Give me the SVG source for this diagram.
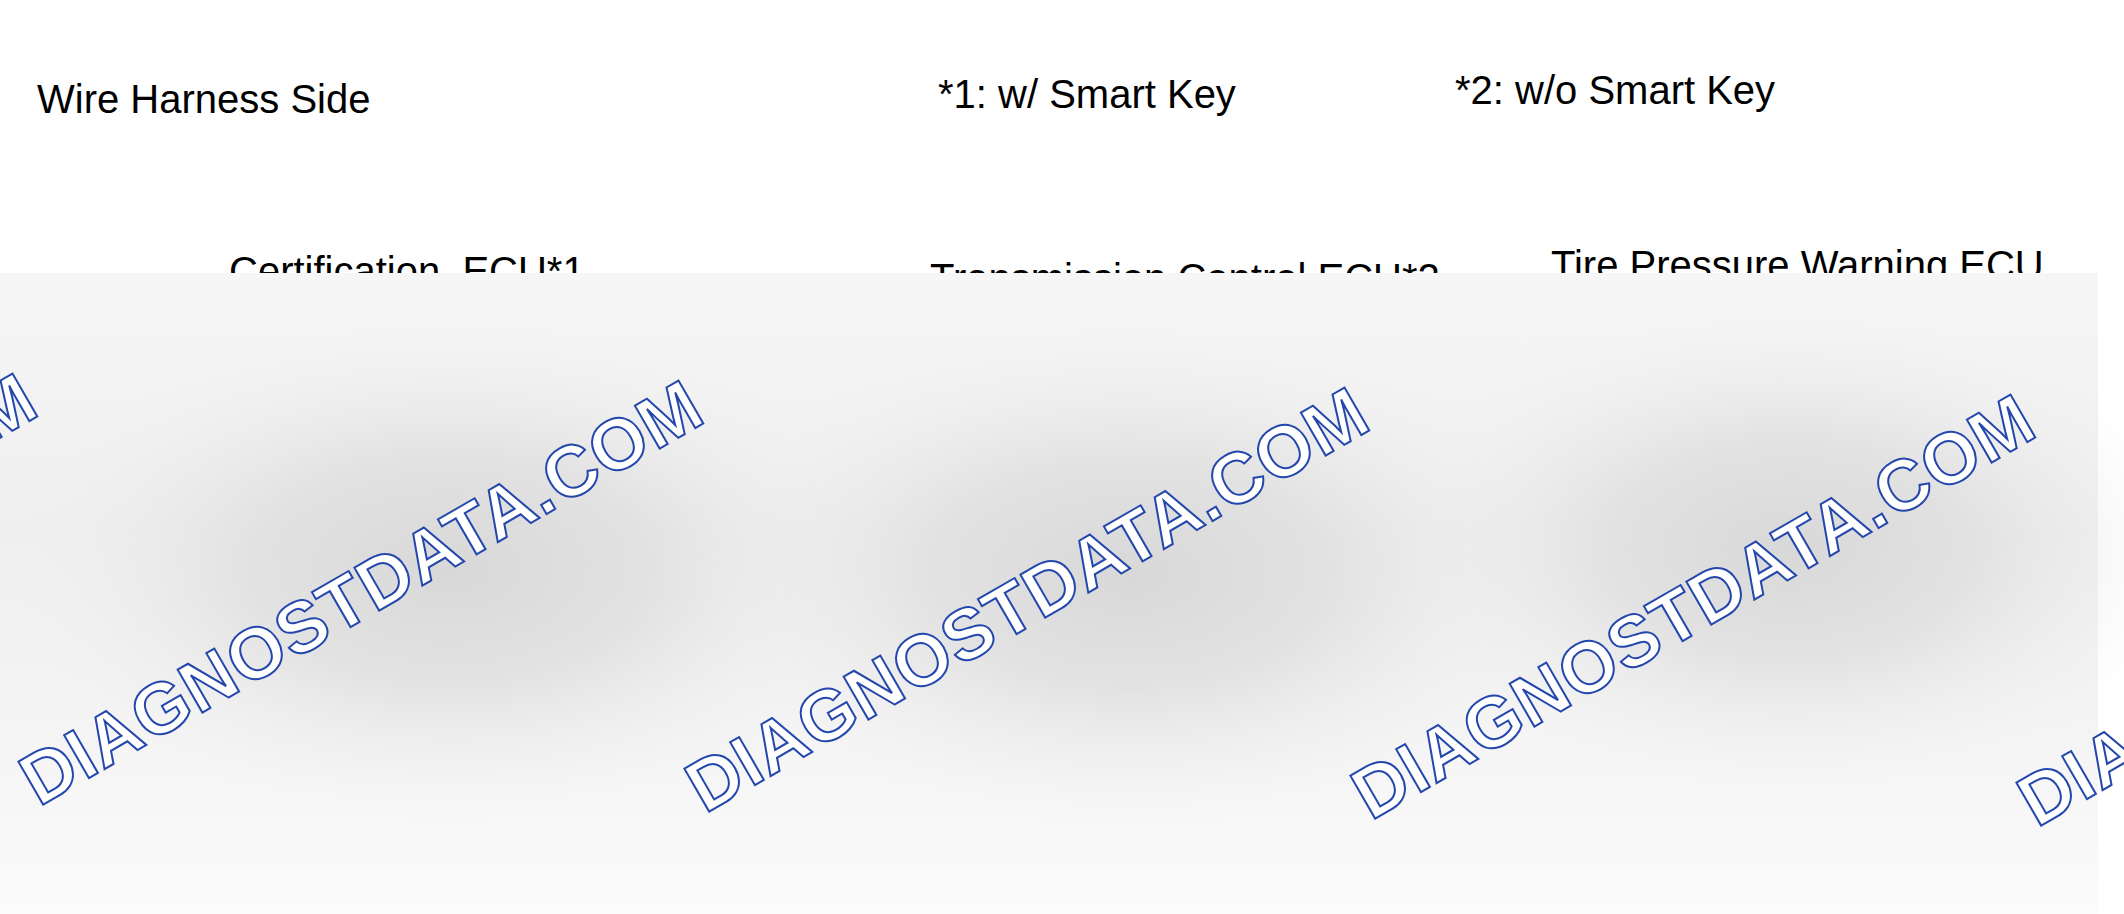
<svg xmlns="http://www.w3.org/2000/svg" width="2124" height="914" viewBox="0 0 2124 914">
  <defs>
    <style>
      .lbl { font-family: "Liberation Sans", Arial, sans-serif; font-size: 40px; fill: #000; }
      .wm { font-family: "Liberation Sans", Arial, sans-serif; font-size: 72px; font-weight: bold; fill: #ffffff; stroke: #2447ad; stroke-width: 2px; stroke-linejoin: miter; }
    </style>
    <linearGradient id="ovBase" x1="0" y1="0" x2="0" y2="1">
      <stop offset="0" stop-color="#f6f6f7"/>
      <stop offset="0.4" stop-color="#efeff0"/>
      <stop offset="0.75" stop-color="#f5f5f6"/>
      <stop offset="1" stop-color="#fbfbfc"/>
    </linearGradient>
    <radialGradient id="blob">
      <stop offset="0" stop-color="#d8d8d9" stop-opacity="1"/>
      <stop offset="0.45" stop-color="#dddddd" stop-opacity="0.75"/>
      <stop offset="1" stop-color="#efeff0" stop-opacity="0"/>
    </radialGradient>
  </defs>

  <rect x="0" y="0" width="2124" height="914" fill="#ffffff"/>

  <g id="label-wire-harness-side">
    <text class="lbl" x="37" y="113">Wire Harness Side</text>
  </g>
  <g id="note-1">
    <text class="lbl" x="938" y="108">*1: w/ Smart Key</text>
  </g>
  <g id="note-2">
    <text class="lbl" x="1455" y="104">*2: w/o Smart Key</text>
  </g>
  <g id="node-certification-ecu">
    <text class="lbl" x="229" y="285" xml:space="preserve">Certification  ECU*1</text>
  </g>
  <g id="node-transmission-control-ecu">
    <text class="lbl" x="930" y="292">Transmission Control ECU*2</text>
  </g>
  <g id="node-tire-pressure-warning-ecu">
    <text class="lbl" x="1551" y="279">Tire Pressure Warning ECU</text>
  </g>

  <g id="overlay">
    <rect x="0" y="273" width="2098" height="641" fill="url(#ovBase)"/>
    <ellipse cx="450" cy="570" rx="440" ry="250" fill="url(#blob)"/>
    <ellipse cx="1130" cy="575" rx="440" ry="250" fill="url(#blob)"/>
    <ellipse cx="1790" cy="550" rx="400" ry="240" fill="url(#blob)"/>
  </g>

  <g id="watermark">
    <text class="wm" transform="translate(-627,800) rotate(-30)" textLength="772" lengthAdjust="spacing">DIAGNOSTDATA.COM</text>
    <text class="wm" transform="translate(39,807) rotate(-30)" textLength="772" lengthAdjust="spacing">DIAGNOSTDATA.COM</text>
    <text class="wm" transform="translate(705,814) rotate(-30)" textLength="772" lengthAdjust="spacing">DIAGNOSTDATA.COM</text>
    <text class="wm" transform="translate(1371,821) rotate(-30)" textLength="772" lengthAdjust="spacing">DIAGNOSTDATA.COM</text>
    <text class="wm" transform="translate(2037,828) rotate(-30)" textLength="772" lengthAdjust="spacing">DIAGNOSTDATA.COM</text>
  </g>
</svg>
